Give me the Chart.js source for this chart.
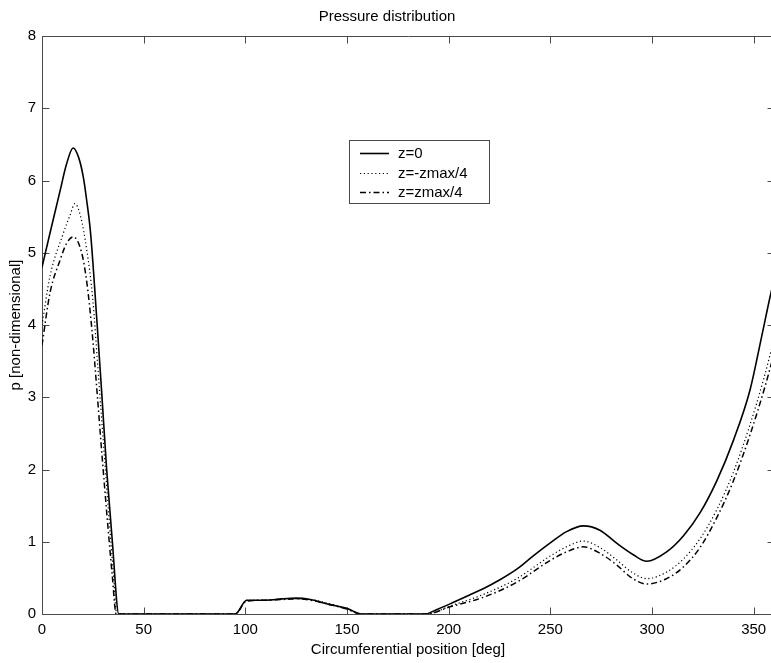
<!DOCTYPE html>
<html>
<head>
<meta charset="utf-8">
<script src="https://cdn.jsdelivr.net/npm/chart.js@4/dist/chart.umd.min.js"></script>
<style>
html, body { margin: 0; padding: 0; background: #fff; overflow: hidden; width: 771px; height: 663px; }
canvas { display: block; }
</style>
</head>
<body>
<canvas id="c" width="790" height="663"></canvas>
<script>
// ---- data ----
const seriesNames = ['z=0', 'z=-zmax/4', 'z=zmax/4'];
const xTicks = [0, 50, 100, 150, 200, 250, 300, 350];
const yTicks = [0, 1, 2, 3, 4, 5, 6, 7, 8];

const solidDeg = [0, 4, 9, 12, 15.3, 18, 20.3, 22, 23.9, 26.9, 29.4, 31.8, 34.6, 37.8, 95, 100.7, 110, 118, 125, 132, 141.6, 149.9, 157.2, 188.4, 194, 200.7, 210, 217, 225, 233.5, 241, 249.8, 258, 266.2, 274.4, 282.6, 290.8, 297.4, 307.2, 315.4, 323.6, 331.8, 340, 348.2, 354, 358, 360];
const solidP   = [4.8, 5.28, 5.87, 6.22, 6.45, 6.32, 6.05, 5.72, 5.27, 4.1, 3.05, 2.0, 1.0, 0, 0, 0.19, 0.19, 0.21, 0.22, 0.2, 0.13, 0.08, 0, 0, 0.06, 0.14, 0.26, 0.35, 0.47, 0.62, 0.79, 0.98, 1.14, 1.22, 1.16, 0.98, 0.82, 0.73, 0.86, 1.08, 1.40, 1.84, 2.40, 3.1, 3.85, 4.38, 4.62];

const dottedDeg = [0, 3.9, 10.5, 13.8, 16.2, 19, 22, 25, 27.5, 30, 32.5, 35, 36.8, 95, 100.7, 110, 118, 125, 132, 141.6, 149.9, 157, 189, 200.7, 217, 233.5, 249.8, 258, 266.2, 274.4, 282.6, 290, 297.4, 307.2, 315.4, 323.6, 331.8, 340, 348.2, 354.8, 360];
const dottedP   = [4.0, 4.67, 5.27, 5.52, 5.68, 5.5, 5.04, 4.35, 3.4, 2.45, 1.5, 0.6, 0, 0, 0.19, 0.19, 0.21, 0.21, 0.2, 0.14, 0.07, 0, 0, 0.11, 0.27, 0.49, 0.8, 0.93, 1.01, 0.92, 0.75, 0.58, 0.49, 0.58, 0.76, 1.04, 1.44, 1.96, 2.62, 3.24, 3.8];

const dashDeg = [0, 3.9, 8.9, 12.1, 15.4, 19.5, 22, 24.5, 27, 29.5, 32, 34.5, 36.5, 95, 100.7, 110, 118, 125, 132, 141.6, 149.9, 157, 189, 200.7, 217, 233.5, 249.8, 258, 266.2, 274.4, 282.6, 290, 297.4, 307.2, 315.4, 323.6, 331.8, 340, 348.2, 355.6, 360];
const dashP   = [3.72, 4.44, 4.9, 5.13, 5.22, 5.0, 4.6, 3.95, 3.1, 2.2, 1.35, 0.55, 0, 0, 0.18, 0.19, 0.2, 0.21, 0.19, 0.13, 0.07, 0, 0, 0.1, 0.23, 0.44, 0.74, 0.86, 0.93, 0.84, 0.68, 0.5, 0.415, 0.49, 0.65, 0.92, 1.33, 1.84, 2.48, 3.15, 3.6];

const FONT = '"Liberation Sans", Arial, Helvetica, sans-serif';
const toPts = (xs, ys) => xs.map((x, i) => ({ x: x, y: ys[i] }));

const frameTicks = {
  id: 'frameTicks',
  beforeDatasetsDraw(chart) {
    const { ctx, chartArea: a, scales } = chart;
    const l = Math.round(a.left) + 0.5, r = Math.round(a.right) + 0.5;
    const t = Math.round(a.top) + 0.5, b = Math.round(a.bottom) + 0.5;
    ctx.save();
    ctx.strokeStyle = '#4a4a4a';
    ctx.lineWidth = 1;
    ctx.beginPath();
    ctx.moveTo(r, t); ctx.lineTo(l, t); ctx.lineTo(l, b); ctx.lineTo(r, b);
    const L = 7;
    xTicks.forEach(v => {
      const px = Math.round(scales.x.getPixelForValue(v)) + 0.5;
      ctx.moveTo(px, b); ctx.lineTo(px, b - L);
      ctx.moveTo(px, t); ctx.lineTo(px, t + L);
    });
    yTicks.forEach(v => {
      const py = Math.round(scales.y.getPixelForValue(v)) + 0.5;
      ctx.moveTo(l, py); ctx.lineTo(l + L, py);
      ctx.moveTo(r, py); ctx.lineTo(r - L, py);
    });
    ctx.stroke();
    ctx.restore();
  }
};

const boxLegend = {
  id: 'boxLegend',
  afterDraw(chart) {
    const { ctx } = chart;
    const x0 = 349.5, y0 = 140.5, w = 140, h = 63;
    ctx.save();
    ctx.fillStyle = '#fff';
    ctx.fillRect(x0, y0, w, h);
    ctx.strokeStyle = '#4a4a4a';
    ctx.lineWidth = 1;
    ctx.strokeRect(x0, y0, w, h);
    const rows = [153, 173, 192];
    chart.data.datasets.forEach((ds, i) => {
      const y = rows[i];
      ctx.strokeStyle = ds.borderColor;
      ctx.lineWidth = ds.borderWidth;
      ctx.setLineDash(ds.borderDash || []);
      ctx.beginPath();
      ctx.moveTo(360, y + 0.5); ctx.lineTo(389, y + 0.5);
      ctx.stroke();
      ctx.setLineDash([]);
      ctx.fillStyle = '#000';
      ctx.font = '15px ' + FONT;
      ctx.textBaseline = 'middle';
      ctx.textAlign = 'left';
      ctx.fillText(ds.label, 398, y + 1);
    });
    ctx.restore();
  }
};

new Chart(document.getElementById('c'), {
  type: 'line',
  data: {
    datasets: [
      { label: seriesNames[0], data: toPts(solidDeg, solidP), borderColor: '#000', borderWidth: 1.6, borderDash: [], pointRadius: 0, fill: false, cubicInterpolationMode: 'monotone' },
      { label: seriesNames[1], data: toPts(dottedDeg, dottedP), borderColor: '#000', borderWidth: 1.2, borderDash: [1.2, 2.6], pointRadius: 0, fill: false, cubicInterpolationMode: 'monotone' },
      { label: seriesNames[2], data: toPts(dashDeg, dashP), borderColor: '#000', borderWidth: 1.5, borderDash: [6, 3, 1.5, 3], pointRadius: 0, fill: false, cubicInterpolationMode: 'monotone' }
    ]
  },
  options: {
    responsive: false,
    animation: false,
    events: [],
    layout: { padding: { left: 0, right: 16, top: 0, bottom: 0 } },
    plugins: {
      legend: { display: false },
      tooltip: { enabled: false },
      title: {
        display: true, text: 'Pressure distribution', color: '#000',
        font: { family: FONT, size: 15, weight: 'normal' },
        padding: { top: 8, bottom: 10 }
      }
    },
    scales: {
      x: {
        type: 'linear', min: 0, max: 360,
        afterBuildTicks: s => { s.ticks = xTicks.map(v => ({ value: v })); },
        afterFit: s => { s.height = 49; },
        ticks: { color: '#000', padding: 7, maxRotation: 0, autoSkip: false, font: { family: FONT, size: 15 } },
        grid: { display: false, drawTicks: false },
        border: { display: false },
        title: { display: true, text: 'Circumferential position [deg]', color: '#000', font: { family: FONT, size: 15 }, padding: { top: 4, bottom: 4 } }
      },
      y: {
        type: 'linear', min: 0, max: 8,
        afterBuildTicks: s => { s.ticks = yTicks.map(v => ({ value: v })); },
        afterFit: s => { s.width = 42; },
        ticks: { color: '#000', padding: 6, font: { family: FONT, size: 15 } },
        grid: { display: false, drawTicks: false },
        border: { display: false },
        title: { display: true, text: 'p [non-dimensional]', color: '#000', font: { family: FONT, size: 15 }, padding: { top: 7, bottom: 0 } }
      }
    }
  },
  plugins: [frameTicks, boxLegend]
});
</script>
</body>
</html>
